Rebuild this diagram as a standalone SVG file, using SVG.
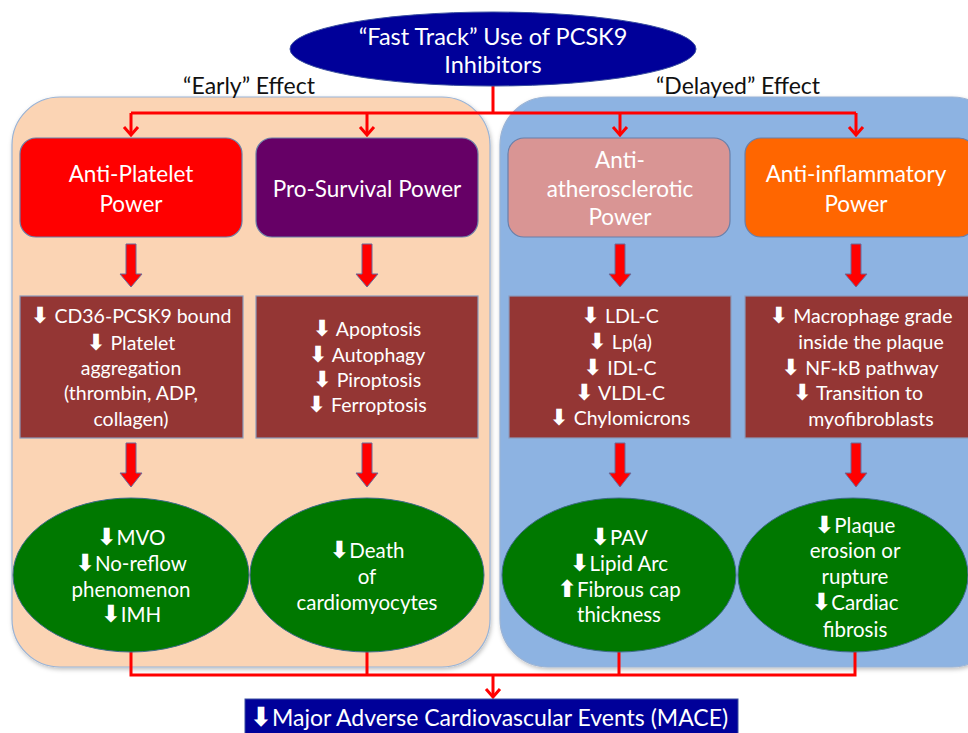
<svg xmlns="http://www.w3.org/2000/svg" width="968" height="733" viewBox="0 0 968 733">
<style>
text{font-family:Lato,"Liberation Sans",sans-serif;}
.w{fill:#fff;text-anchor:middle;}
.t1{font-size:22.5px;}
.t2{font-size:19.5px;}
.t3{font-size:20.5px;}
.hd{font-size:23px;fill:#111;text-anchor:middle;}
.ar{font-family:"DejaVu Sans",sans-serif;font-weight:bold;font-size:1.15em;}
.box{stroke:#6a7fa8;stroke-width:1.2;}
.mid{fill:#943634;stroke:#8a9bbd;stroke-width:1.2;}
.ell{fill:#007800;stroke:#3d6b8a;stroke-width:1;}
.ln{fill:none;stroke:#ff0000;stroke-width:3;}
.blk{fill:#ff0000;stroke:#6b6b9a;stroke-width:1;}
</style>
<defs>
<filter id="sh" x="-5%" y="-5%" width="110%" height="110%"><feDropShadow dx="1" dy="2" stdDeviation="2" flood-color="#000" flood-opacity="0.25"/></filter>
</defs>
<rect width="968" height="733" fill="#fff"/>
<g id="panel-early"><rect x="12" y="97" width="478" height="570" rx="48" fill="#fbd4b4" stroke="#9ab3d5" stroke-width="1.2" filter="url(#sh)"/></g>
<g id="panel-delayed"><rect x="500" y="97" width="500" height="570" rx="48" fill="#8db3e2" stroke="#9ab3d5" stroke-width="1.2" filter="url(#sh)"/></g>
<text class="hd" x="249" y="94">“Early” Effect</text>
<text class="hd" x="738" y="94">“Delayed” Effect</text>
<g id="connectors">
<path class="ln" d="M493 86V113M131 113H856M131 113V134M367 113V134M620 113V134M856 113V134"/>
<path class="ln" stroke-width="2" d="M124 127L131 135L138 127M360 127L367 135L374 127M613 127L620 135L627 127M849 127L856 135L863 127"/>
<path class="ln" d="M131 652V675H855V652M367 652V675M619 652V675M493 675V696"/>
<path class="ln" stroke-width="2" d="M486 689L493 697L500 689"/>
<g id="block-arrows">
<path class="blk" d="M126 244H136V274H142L131 287L120 274H126Z"/>
<path class="blk" d="M362 244H372V274H378L367 287L356 274H362Z"/>
<path class="blk" d="M615 244H625V274H631L620 287L609 274H615Z"/>
<path class="blk" d="M851 244H861V274H867L856 287L845 274H851Z"/>
<path class="blk" d="M126 443H136V473H142L131 487L120 473H126Z"/>
<path class="blk" d="M362 443H372V473H378L367 487L356 473H362Z"/>
<path class="blk" d="M615 443H625V473H631L620 487L609 473H615Z"/>
<path class="blk" d="M851 443H861V473H867L856 487L845 473H851Z"/>
</g>
</g>
<g id="top"><ellipse cx="493" cy="49" rx="203" ry="37" fill="#000099" stroke="#3a4fa0" stroke-width="1"/>
<text class="w" x="493" y="45" font-size="23.5">“Fast Track” Use of PCSK9</text>
<text class="w" x="493" y="73" font-size="23.5">Inhibitors</text></g>
<g id="anti-platelet"><rect class="box" x="20" y="138" width="222" height="99" rx="16" fill="#ff0000"/>
<text class="w t1" x="131" y="182">Anti-Platelet</text><text class="w t1" x="131" y="212">Power</text></g>
<g id="pro-survival"><rect class="box" x="256" y="138" width="222" height="99" rx="16" fill="#660066"/>
<text class="w t1" x="367" y="197">Pro-Survival Power</text></g>
<g id="anti-athero"><rect class="box" x="508" y="138" width="222" height="99" rx="16" fill="#d99594"/>
<text class="w t1" x="620" y="168">Anti-</text><text class="w t1" x="620" y="197">atherosclerotic</text><text class="w t1" x="620" y="225">Power</text></g>
<g id="anti-inflam"><rect class="box" x="745" y="138" width="230" height="99" rx="16" fill="#ff6600"/>
<text class="w t1" x="856" y="182">Anti-inflammatory</text><text class="w t1" x="856" y="212">Power</text></g>
<g id="platelet-effects"><rect class="mid" x="20" y="296" width="223" height="142"/>
<text class="w t2" x="131" y="323"><tspan class="ar">⬇</tspan>  CD36-PCSK9 bound</text>
<text class="w t2" x="131" y="350"><tspan class="ar">⬇</tspan>  Platelet</text>
<text class="w t2" x="131" y="375">aggregation</text>
<text class="w t2" x="131" y="400">(thrombin, ADP,</text>
<text class="w t2" x="131" y="426">collagen)</text></g>
<g id="survival-effects"><rect class="mid" x="256" y="296" width="222" height="142"/>
<text class="w t2" x="367" y="336"><tspan class="ar">⬇</tspan>  Apoptosis</text>
<text class="w t2" x="367" y="362"><tspan class="ar">⬇</tspan>  Autophagy</text>
<text class="w t2" x="367" y="387"><tspan class="ar">⬇</tspan>  Piroptosis</text>
<text class="w t2" x="367" y="412"><tspan class="ar">⬇</tspan>  Ferroptosis</text></g>
<g id="lipid-effects"><rect class="mid" x="509" y="296" width="222" height="142"/>
<text class="w t2" x="620" y="323"><tspan class="ar">⬇</tspan>  LDL-C</text>
<text class="w t2" x="620" y="349"><tspan class="ar">⬇</tspan>  Lp(a)</text>
<text class="w t2" x="620" y="375"><tspan class="ar">⬇</tspan>   IDL-C</text>
<text class="w t2" x="620" y="400"><tspan class="ar">⬇</tspan>  VLDL-C</text>
<text class="w t2" x="620" y="425"><tspan class="ar">⬇</tspan>  Chylomicrons</text></g>
<g id="inflam-effects"><rect class="mid" x="745" y="296" width="230" height="142"/>
<text class="w t2" x="861" y="323"><tspan class="ar">⬇</tspan>  Macrophage grade</text>
<text class="w t2" x="871" y="349">inside the plaque</text>
<text class="w t2" x="860" y="375"><tspan class="ar">⬇</tspan>  NF-kB  pathway</text>
<text class="w t2" x="858" y="400"><tspan class="ar">⬇</tspan>  Transition to</text>
<text class="w t2" x="871" y="426">myofibroblasts</text></g>
<g id="outcome-early1"><ellipse class="ell" cx="131" cy="575" rx="118" ry="77"/>
<text class="w t3" x="131" y="545"><tspan class="ar">⬇</tspan>MVO</text>
<text class="w t3" x="131" y="571"><tspan class="ar">⬇</tspan>No-reflow</text>
<text class="w t3" x="131" y="597">phenomenon</text>
<text class="w t3" x="131" y="622"><tspan class="ar">⬇</tspan>IMH</text></g>
<g id="outcome-early2"><ellipse class="ell" cx="367" cy="575" rx="117" ry="77"/>
<text class="w t3" x="367" y="558"><tspan class="ar">⬇</tspan>Death</text>
<text class="w t3" x="367" y="584">of</text>
<text class="w t3" x="367" y="610">cardiomyocytes</text></g>
<g id="outcome-delayed1"><ellipse class="ell" cx="619" cy="575" rx="117" ry="77"/>
<text class="w t3" x="619" y="545"><tspan class="ar">⬇</tspan>PAV</text>
<text class="w t3" x="619" y="571"><tspan class="ar">⬇</tspan>Lipid Arc</text>
<text class="w t3" x="619" y="597"><tspan class="ar">⬆</tspan>Fibrous cap</text>
<text class="w t3" x="619" y="622">thickness</text></g>
<g id="outcome-delayed2"><ellipse class="ell" cx="853" cy="575" rx="115" ry="77"/>
<text class="w t3" x="855" y="533"><tspan class="ar">⬇</tspan>Plaque</text>
<text class="w t3" x="855" y="558">erosion or</text>
<text class="w t3" x="855" y="584">rupture</text>
<text class="w t3" x="855" y="610"><tspan class="ar">⬇</tspan>Cardiac</text>
<text class="w t3" x="855" y="637">fibrosis</text></g>
<g id="mace"><rect x="245" y="699" width="493" height="40" fill="#000099" stroke="#3a4fa0"/>
<text class="w" x="489" y="726" font-size="23"><tspan class="ar">⬇</tspan>Major Adverse Cardiovascular Events (MACE)</text></g>
</svg>
